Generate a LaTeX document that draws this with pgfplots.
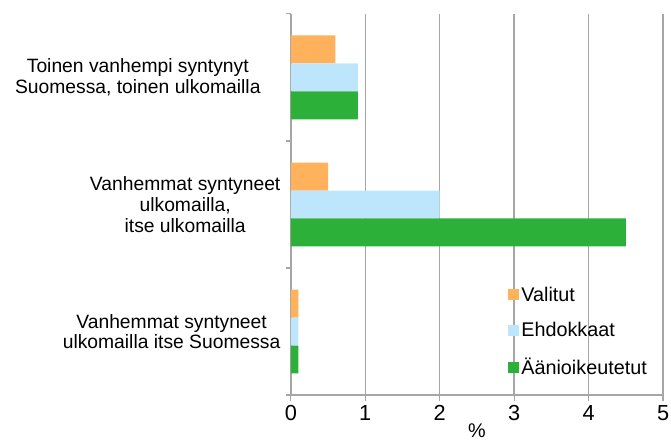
\documentclass[border=0pt]{standalone}
\usepackage{fontspec}
\setmainfont{Liberation Sans}
\usepackage{pgfplots}
\pgfplotsset{compat=1.18}

\definecolor{valitut}{HTML}{FFB25B}
\definecolor{ehdokkaat}{HTML}{BDE6FC}
\definecolor{aanioik}{HTML}{2DB03A}
\definecolor{gridgray}{HTML}{A6A6A6}

\begin{document}
\begin{tikzpicture}
\begin{axis}[
  scale only axis,
  width=375bp, height=384bp,
  xbar,
  bar width=0.22,
  xmin=0, xmax=5,
  ymin=-0.5, ymax=2.5,
  xtick={0,1,2,3,4,5},
  ytick={0,1,2},
  yticklabels={
    {Vanhemmat syntyneet\\ulkomailla itse Suomessa},
    {Vanhemmat syntyneet\\ulkomailla,\\itse ulkomailla},
    {Toinen vanhempi syntynyt\hspace*{20bp}\\Suomessa, toinen ulkomailla\hspace*{20bp}}},
  minor ytick={-0.5,0.5,1.5,2.5},
  major tick length=6bp,
  minor tick length=5bp,
  every major y tick/.append style={draw=none},
  tick style={draw=gridgray, line width=1.2bp},
  tick align=outside,
  axis lines*=left,
  axis line style={draw=gridgray, line width=1.5bp},
  xmajorgrids,
  grid style={draw=gridgray, line width=1.5bp},
  /pgf/number format/assume math mode=true,
  xticklabel style={font=\fontsize{22}{24}\selectfont, yshift=-1bp},
  yticklabel style={font=\fontsize{19.5}{21}\selectfont, align=center, xshift=-1bp},
  xlabel={\%},
  xlabel style={font=\fontsize{20}{22}\selectfont, yshift=4bp},
  legend style={draw=none, fill=none, at={(rel axis cs:0.575,0.295)}, anchor=north west,
    font=\fontsize{20}{22}\selectfont, row sep=16bp, legend cell align=left,
    nodes={inner xsep=2.5bp}},
  legend image code/.code={\fill[#1] (0bp,-5.5bp) rectangle (11bp,5.5bp);},
]
\addplot[fill=valitut, draw=none, bar shift=0.22] coordinates {(0.1,0) (0.5,1) (0.6,2)};
\addlegendentry{Valitut}
\addplot[fill=ehdokkaat, draw=none, bar shift=0] coordinates {(0.1,0) (2.0,1) (0.9,2)};
\addlegendentry{Ehdokkaat}
\addplot[fill=aanioik, draw=none, bar shift=-0.22] coordinates {(0.1,0) (4.5,1) (0.9,2)};
\addlegendentry{Äänioikeutetut}
\end{axis}
\pgfresetboundingbox
\path ([xshift=-293bp,yshift=-52bp]current axis.south west) rectangle ([xshift=8bp,yshift=14bp]current axis.north east);
\end{tikzpicture}
\end{document}
